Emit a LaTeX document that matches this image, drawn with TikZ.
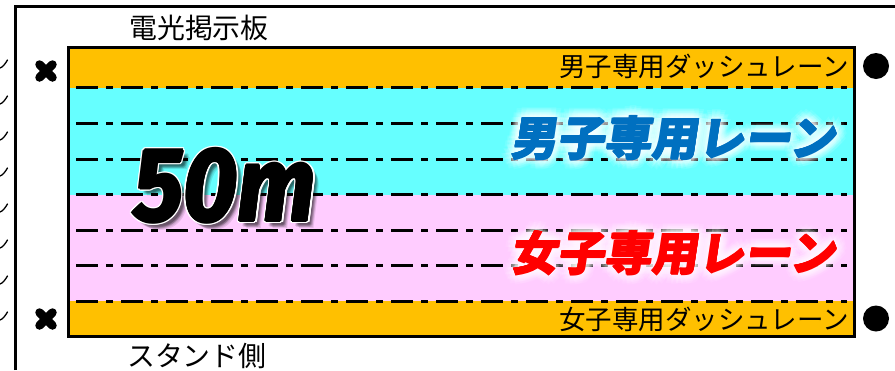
\documentclass[tikz,border=0pt]{standalone}
\usepackage{fontspec}
\usetikzlibrary{calc}
\setmainfont{Noto Sans CJK JP}
\newfontfamily\jpfont{Noto Sans CJK JP}
\newfontfamily\popfont{Noto Sans CJK JP}[FakeSlant=0.15]
\newfontfamily\bigfont{Fira Sans}
\definecolor{laneorange}{RGB}{255,192,0}
\definecolor{lanecyan}{RGB}{102,255,255}
\definecolor{lanepink}{RGB}{255,204,255}
\definecolor{menblue}{RGB}{0,112,192}
\definecolor{womenred}{RGB}{255,0,0}
\tikzset{
  frameline/.style={line width=3bp, black},
  laneline/.style={line width=3bp, black, dash pattern=on 22bp off 8bp on 7bp off 8bp},
  tickmark/.style={line width=1.3bp, black, line cap=round},
  crossmark/.style={line width=8.5bp, black, line cap=round},
  plainlabel/.style={inner sep=0pt, font=\jpfont\fontsize{28}{28}\selectfont},
  dashlabel/.style={inner sep=0pt, anchor=east, font=\jpfont\fontsize{26.6}{27}\selectfont},
  poplabel/.style={inner sep=0pt, font=\popfont\bfseries\fontsize{47}{47}\selectfont},
  glowcopy/.style={poplabel, text=white, text opacity=0.09},
  bignum/.style={inner sep=0pt, anchor=base, font=\bigfont\bfseries\itshape\fontsize{105}{105}\selectfont}
}
\newcommand{\fiftytext}{\scalebox{0.9}[1]{50m}}
\begin{document}
\begin{tikzpicture}[x=1bp,y=-1bp]
\useasboundingbox (0,0) rectangle (895,370);
% lanes
\fill[laneorange] (68,47.5) rectangle (854.5,87.5);
\fill[lanecyan] (68,87.5) rectangle (854.5,194.5);
\fill[lanepink] (68,194.5) rectangle (854.5,301);
\fill[laneorange] (68,301) rectangle (854.5,336);
\foreach \yy in {87.5,123,159,194.5,230,265.5,301}
  \draw[laneline] (76,\yy) -- (847,\yy);
\draw[frameline] (68.3,47.7) rectangle (854.3,336);
% outer frame
\draw[frameline] (15.3,370) -- (15.3,6.7) -- (895,6.7);
% ticks at left edge
\foreach \yy in {64,100,136,172,208,244,280,316}
  \draw[tickmark] (0,\yy+4) .. controls (3,\yy+3) and (5,\yy) .. (7.5,\yy-4);
% crosses
\foreach \cy in {71,319}
  \draw[crossmark] (46-6.5,\cy-6.5) -- (46+6.5,\cy+6.5) (46+6.5,\cy-6.5) -- (46-6.5,\cy+6.5);
% dots
\fill (876,66) circle (13);
\fill (876,318.5) circle (13);
% labels
\node[plainlabel] (board) at (199,27.5) {電光掲示板};
\node[plainlabel, anchor=west] (stand) at (127,355.5) {スタンド側};
\node[dashlabel] (mdash) at (849,66) {男子専用ダッシュレーン};
\node[dashlabel] (fdash) at (849,319.5) {女子専用ダッシュレーン};
% glowing lane names
\foreach \rr in {2,4,6,8,10}
  \foreach \aa [count=\ii] in {0,30,...,330} {
    \node[glowcopy] (mg\rr-\ii) at ($(673.5,138)+(\aa+15*\rr:\rr)$) {男子専用レーン};
    \node[glowcopy] (fg\rr-\ii) at ($(673.5,253)+(\aa+15*\rr:\rr)$) {女子専用レーン};
  }
\foreach \aa [count=\ii] in {0,90,180,270} {
  \node[poplabel, text=menblue] (mb\ii) at ($(673.5,138)+(\aa:0.6)$) {男子専用レーン};
  \node[poplabel, text=womenred] (fb\ii) at ($(673.5,253)+(\aa:0.6)$) {女子専用レーン};
}
\node[poplabel, text=menblue] (mlane) at (673.5,138) {男子専用レーン};
\node[poplabel, text=womenred] (flane) at (673.5,253) {女子専用レーン};
% 50m : shadow, white rim, black body
\foreach \dx/\dy [count=\ii] in {4/4,5/5,3/5,5/3,6/6,4/6,6/4,7/7}
  \node[bignum, text=black, text opacity=0.10] (sh\ii) at (225+\dx,221+\dy) {\fiftytext};
\foreach \aa [count=\ii] in {0,22.5,...,337.5}
  \node[bignum, text=white] (wo\ii) at ($(225,221)+(\aa:2.6)$) {\fiftytext};
\foreach \aa [count=\ii] in {0,45,...,315}
  \node[bignum, text=black] (bk\ii) at ($(225,221)+(\aa:1.1)$) {\fiftytext};
\node[bignum, text=black] (fifty) at (225,221) {\fiftytext};
\end{tikzpicture}
\end{document}
